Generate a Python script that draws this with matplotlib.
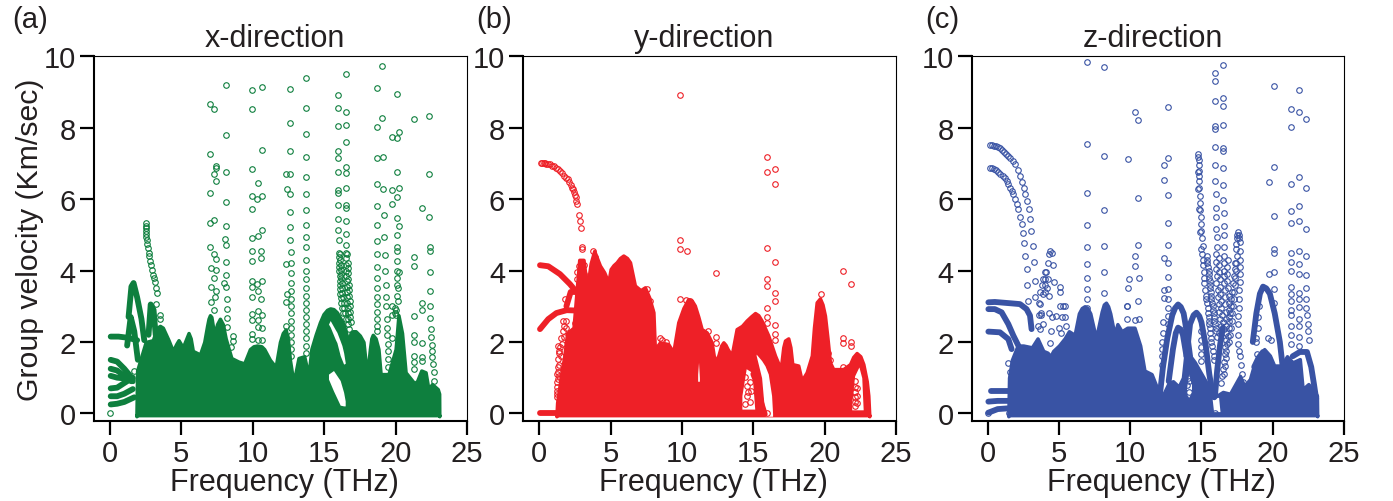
import numpy as np
import matplotlib
matplotlib.use('Agg')
import matplotlib.pyplot as plt

plt.rcParams['font.family'] = ['Liberation Sans', 'DejaVu Sans']
TEXT = '#231f20'
W, H = 1393, 502

green = '#0e7f3e'
red = '#ee2027'
blue = '#3953a4'

freq_ticks = [0, 5, 10, 15, 20, 25]
vel_ticks = [0, 2, 4, 6, 8, 10]

# ---- (a) x-direction: top edge of the solid mass
env_a_f = [1.85, 1.9, 2.2, 2.5, 3.0, 3.3, 3.5, 3.7, 4.1, 4.4, 4.65, 4.8, 5.1, 5.35, 5.5, 5.65, 5.8, 6.3, 6.6, 6.8, 6.9, 7.0, 7.1, 7.2, 7.3,
           7.5, 7.7, 7.9, 8.1, 8.5, 9.0, 9.4, 9.8, 10.05, 10.3, 10.6, 10.8, 11.2, 11.6, 11.9, 12.1, 12.3, 12.45, 12.6, 12.85, 13.2, 13.6, 13.9,
           14.1, 14.4, 14.7, 14.95, 15.2, 15.42, 15.65, 15.89, 16.36, 16.7, 16.85, 17.0, 17.2, 17.5, 17.75, 18.0, 18.2, 18.3, 18.4, 18.6, 18.8,
           18.95, 19.5, 20.0, 20.2, 20.45, 20.7, 21.0, 21.3, 21.5, 21.8, 22.1, 22.3, 22.55, 22.95, 23.05, 23.06]
env_a_v = [-0.08, 1.2, 1.6, 2.0, 2.05, 2.4, 2.45, 2.4, 2.05, 1.75, 1.95, 2.05, 1.85, 2.1, 2.25, 2.1, 1.75, 1.65, 2.0, 2.45, 2.65, 2.75, 2.7,
           2.45, 2.2, 2.5, 2.65, 2.5, 2.1, 1.55, 1.45, 1.4, 1.8, 1.88, 1.9, 1.88, 1.8, 1.5, 1.3, 2.0, 2.25, 2.35, 2.1, 1.5, 0.85, 1.55, 1.6, 1.05,
           1.8, 2.2, 2.55, 2.78, 2.9, 2.94, 2.92, 2.83, 2.5, 2.0, 2.25, 2.3, 2.3, 2.18, 2.0, 1.05, 1.8, 2.1, 2.2, 2.1, 1.8,
           1.1, 1.1, 1.8, 2.75, 2.25, 1.15, 1.0, 0.85, 0.9, 1.2, 1.15, 0.68, 0.82, 0.68, 0.55, -0.08]
hole_a1_f = [15.3, 15.42, 15.77, 15.89, 16.12, 16.24, 16.36, 16.47]
hole_a1_lo = [2.5, 2.42, 2.08, 1.98, 1.62, 1.5, 1.38, 1.4]
hole_a1_hi = [2.5, 2.6, 2.35, 2.27, 2.03, 1.9, 1.7, 1.43]
hole_a2_f = [15.3, 15.65, 16.12, 16.36, 16.47]
hole_a2_lo = [0.96, 0.63, 0.23, 0.21, 0.21]
hole_a2_hi = [1.1, 1.2, 0.92, 0.59, 0.35]
band_a1 = [[0.05, 0.6, 1.2, 1.9], [2.15, 2.15, 2.12, 2.05]]
band_a2 = [[0.05, 0.5, 1.0, 1.6], [1.5, 1.45, 1.25, 0.96]]
band_a3 = [[0.05, 0.5, 1.0, 1.5], [1.25, 1.2, 1.05, 0.9]]
band_a4 = [[0.05, 0.5, 1.0, 1.6], [1.05, 1.0, 0.98, 0.9]]
band_a5 = [[0.05, 0.5, 1.0, 1.6], [0.7, 0.72, 0.85, 1.0]]
band_a6 = [[0.05, 0.5, 1.0, 1.6], [0.48, 0.48, 0.55, 0.68]]
band_a7 = [[0.05, 0.5, 1.0, 1.7], [0.25, 0.27, 0.32, 0.45]]
band_a8 = [[1.3, 1.5, 1.65, 1.9, 2.2, 2.4], [2.7, 3.55, 3.65, 3.25, 2.65, 2.05]]
band_a9 = [[1.2, 1.45, 1.7, 1.95], [1.9, 2.7, 2.3, 1.5]]
band_a10 = [[2.7, 2.85, 3.05, 3.2], [2.2, 3.05, 2.9, 2.2]]
bands_a = [band_a1, band_a2, band_a3, band_a4, band_a5, band_a6, band_a7, band_a8, band_a9, band_a10]
pts_a = [(0.02, 0.0), (1.7, 1.2),
    (2.5, 5.33), (2.5, 5.25), (2.5, 5.18), (2.52, 5.1), (2.53, 5.02), (2.55, 4.95), (2.58, 4.85), (2.6, 4.75),
    (2.65, 4.62), (2.7, 4.5), (2.75, 4.4), (2.8, 4.28), (2.87, 4.15), (2.92, 4.02), (3.0, 3.88), (3.07, 3.78),
    (3.15, 3.67), (3.2, 3.5), (3.3, 3.38), (3.25, 3.05), (3.5, 2.75), (3.5, 2.65),
    (6.99, 8.66), (7.31, 8.52), (8.13, 9.2), (9.91, 9.06), (10.61, 9.13), (9.91, 8.52), (12.64, 9.09), (13.71, 9.39),
    (13.71, 8.54), (12.64, 8.14), (13.71, 7.82), (8.13, 7.81), (15.96, 8.92), (16.54, 9.5), (15.96, 8.54),
    (16.54, 8.44), (15.96, 8.05), (16.54, 8.08), (16.54, 7.59), (19.04, 9.73), (18.71, 9.12), (20.09, 8.95),
    (19.07, 8.28), (18.71, 8.02), (21.29, 8.25), (22.34, 8.34), (20.23, 7.88), (19.74, 7.73), (20.09, 7.7),
    (6.99, 7.25), (10.61, 7.38), (12.64, 7.36), (13.71, 7.19), (15.96, 7.34), (15.96, 7.16), (18.71, 7.14),
    (19.11, 7.18), (7.41, 6.94), (7.41, 6.86), (7.29, 6.69), (7.41, 6.52), (8.13, 6.75), (9.91, 6.84), (10.35, 6.46),
    (12.34, 6.69), (12.64, 6.69), (13.71, 6.63), (15.96, 6.75), (16.54, 6.89), (16.54, 6.73), (20.09, 6.77),
    (22.34, 6.69), (18.69, 6.41), (19.11, 6.28), (19.74, 6.25), (20.23, 6.31), (16.54, 6.32), (15.98, 6.26),
    (15.98, 6.17), (7.01, 6.18), (12.38, 6.29), (12.64, 6.14), (13.71, 6.13), (9.91, 6.08), (10.61, 6.1), (10.3, 5.99),
    (8.13, 5.93), (20.09, 6.05), (19.72, 5.86), (18.67, 5.81), (21.87, 5.75), (22.34, 5.51), (16.0, 5.83),
    (16.54, 5.84), (16.54, 5.75), (9.91, 5.72), (12.64, 5.65), (13.71, 5.7), (19.16, 5.56), (16.0, 5.45), (16.54, 5.4),
    (20.09, 5.47), (7.01, 5.33), (7.31, 5.41), (8.13, 5.26), (13.71, 5.28), (18.67, 5.28), (20.23, 5.26), (12.64, 5.22),
    (10.61, 5.13), (16.0, 5.14), (16.54, 5.03), (10.35, 4.96), (9.91, 4.9), (8.06, 4.88), (8.13, 4.72), (12.64, 4.85),
    (13.71, 4.93), (16.03, 4.86), (16.54, 4.72), (18.67, 4.84), (19.21, 4.95), (20.09, 5.0), (7.01, 4.65), (22.38, 4.65),
    (20.09, 4.65), (13.71, 4.65),
    (7.06, 4.06), (7.43, 4.02), (7.31, 4.46), (7.43, 4.32), (8.13, 4.25), (8.13, 3.87), (7.29, 3.79), (7.99, 3.64),
    (8.13, 3.53), (7.06, 3.53), (7.43, 3.44), (7.36, 3.25), (8.18, 3.2), (7.06, 3.11), (8.18, 2.92), (7.29, 2.89),
    (8.18, 2.66), (8.18, 2.41), (8.64, 2.18), (8.64, 2.04), (8.5, 1.85),
    (9.93, 4.56), (10.58, 4.56), (9.93, 4.26), (10.58, 4.34), (9.93, 3.72), (10.63, 3.72), (9.93, 3.53), (10.28, 3.62),
    (10.35, 3.44), (9.93, 3.25), (10.58, 3.2), (10.35, 2.88), (9.93, 2.78), (10.63, 2.75), (9.93, 2.62), (10.35, 2.62),
    (10.63, 2.4), (10.35, 2.41), (9.93, 2.22), (9.93, 2.08), (10.35, 2.06), (10.63, 2.06),
    (12.66, 4.51), (12.66, 4.2), (12.66, 3.92), (12.66, 3.65), (12.66, 3.42), (12.66, 3.2), (12.66, 3.0), (12.66, 2.8),
    (12.66, 2.6), (12.66, 2.4), (12.66, 2.2), (12.66, 2.0), (12.66, 1.8), (12.66, 1.6), (12.34, 4.17), (12.38, 3.34),
    (12.34, 3.11), (12.34, 2.45),
    (13.71, 4.3), (13.71, 4.0), (13.71, 3.75), (13.71, 3.5), (13.71, 3.3), (13.71, 3.1), (13.71, 2.9), (13.71, 2.7),
    (13.71, 2.5), (13.71, 2.3), (13.71, 2.1), (13.71, 1.9), (13.71, 1.7),
    (16.02, 4.5), (16.05, 4.38), (16.05, 4.22), (16.05, 4.1), (16.05, 3.98), (16.08, 3.85), (16.08, 3.72), (16.1, 3.6),
    (16.1, 3.48), (16.12, 3.35), (16.15, 3.22), (16.2, 3.08), (16.25, 2.95), (16.3, 2.82),
    (16.12, 4.45), (16.12, 4.3), (16.15, 4.15), (16.15, 4.02), (16.18, 3.9), (16.2, 3.78), (16.22, 3.65), (16.25, 3.5),
    (16.28, 3.38), (16.32, 3.25), (16.38, 3.1), (16.42, 2.95), (16.48, 2.8), (16.5, 2.65),
    (16.54, 4.5), (16.54, 4.35), (16.54, 4.15), (16.56, 4.0), (16.56, 3.85), (16.58, 3.7), (16.58, 3.55), (16.6, 3.4),
    (16.62, 3.25), (16.62, 3.1), (16.65, 2.95), (16.68, 2.8), (16.7, 2.65), (16.7, 2.5), (16.72, 2.35),
    (16.62, 4.45), (16.65, 4.22), (16.65, 4.08), (16.68, 3.92), (16.7, 3.75), (16.72, 3.6), (16.75, 3.45), (16.75, 3.3),
    (16.78, 3.15), (16.8, 3.0), (16.82, 2.85), (16.82, 2.7), (16.85, 2.55),
    (18.71, 4.46), (18.71, 4.1), (18.71, 3.78), (18.71, 3.5), (18.71, 3.27), (18.71, 3.05), (18.71, 2.85), (18.71, 2.65),
    (18.71, 2.45), (18.71, 2.3), (19.23, 4.44), (19.28, 3.98), (19.32, 3.6), (19.32, 3.25), (19.35, 3.0), (19.4, 2.65),
    (19.4, 2.4), (19.43, 2.2), (19.5, 1.95), (19.5, 1.76), (19.5, 1.52), (19.5, 1.3),
    (19.74, 3.0), (19.74, 2.75), (19.74, 2.1), (19.95, 2.8), (19.95, 2.95),
    (20.09, 4.56), (20.09, 4.27), (20.09, 4.0), (20.23, 3.95), (20.1, 3.8), (20.09, 3.6), (20.2, 3.5), (20.1, 3.3),
    (20.2, 3.15), (20.05, 2.9), (20.05, 2.75),
    (21.29, 4.39), (21.29, 4.12), (21.29, 2.74), (21.29, 2.19), (21.29, 2.0), (21.29, 1.62), (21.29, 1.43), (21.29, 1.24),
    (21.87, 3.09), (21.87, 2.9), (21.87, 1.96), (21.87, 1.57), (21.87, 1.48),
    (22.38, 4.56), (22.38, 3.97), (22.38, 3.44), (22.43, 3.0), (22.43, 2.66), (22.47, 2.36), (22.5, 2.13), (22.52, 1.92),
    (22.57, 1.76), (22.57, 1.57), (22.6, 1.38), (22.66, 1.15), (22.7, 0.92),
]

# ---- (b) y-direction
env_b_f = [1.2, 1.25, 1.5, 1.75, 1.95, 2.4, 2.65, 2.8, 3.1, 3.35, 3.6, 3.85, 4.25, 4.55, 4.84, 5.0, 5.2, 5.42, 5.65, 5.89, 6.15, 6.36, 6.7, 7.1, 7.4, 7.7, 8.0, 8.1,
           8.46, 9.04, 9.39, 9.74, 10.1, 10.44, 10.7, 10.9, 11.15, 11.38, 11.73, 12.08, 12.3, 12.55, 12.75, 12.9, 13.05, 13.2, 13.48, 13.83, 14.2, 14.53, 14.85, 15.12,
           15.35, 15.58, 16.05, 16.52, 16.92, 17.1, 17.22, 17.45, 17.6, 17.73, 18.15, 18.39, 18.74, 19.1, 19.25, 19.44, 19.67, 19.85, 20.02, 20.2, 20.37, 20.6,
           21.3, 21.78, 22.0, 22.24, 22.5, 22.71, 22.95, 23.06, 23.13]
env_b_v = [-0.08, 0.3, 1.0, 1.6, 2.25, 2.4, 3.6, 4.3, 4.3, 3.5, 4.2, 4.55, 4.14, 3.95, 3.67, 4.04, 4.15, 4.23, 4.35, 4.42, 4.35, 4.23, 3.58, 3.45, 3.53, 3.25, 2.83, 1.8,
           1.99, 1.94, 1.71, 2.55, 2.95, 3.2, 3.15, 3.02, 2.7, 2.36, 2.27, 1.99, 1.43, 1.62, 1.9, 1.99, 1.92, 1.8, 1.62, 2.36, 2.45, 2.6, 2.72, 2.81,
           2.75, 2.6, 2.18, 1.62, 1.24, 1.85, 2.04, 2.1, 1.85, 1.38, 1.34, 0.92, 1.15, 1.62, 2.4, 3.11, 3.22, 3.05, 2.74, 2.1, 1.43, 1.24,
           1.24, 1.38, 1.58, 1.69, 1.6, 1.38, 0.9, 0.5, -0.08]
hole_b1_f = [15.2, 15.58, 15.82, 16.05, 16.28, 16.35]
hole_b1_lo = [1.62, 1.0, -0.08, -0.08, -0.08, -0.08]
hole_b1_hi = [1.66, 1.48, 1.33, 1.1, 0.5, 0.0]
hole_b2_f = [14.2, 14.5, 14.9, 15.1]
hole_b2_lo = [0.12, 0.12, 0.12, 0.12]
hole_b2_hi = [0.5, 1.25, 1.15, 0.12]
hole_b3_f = [21.9, 22.1, 22.4, 22.6, 22.7]
hole_b3_lo = [0.1, 0.1, 0.1, 0.1, 0.1]
hole_b3_hi = [0.3, 1.05, 1.3, 1.0, 0.1]
hole_b4_f = [11.1, 11.16, 11.22]
hole_b4_lo = [0.9, 0.9, 0.9]
hole_b4_hi = [1.1, 1.43, 1.0]
band_b1 = [[0.05, 0.63, 1.45, 2.15, 2.73], [4.15, 4.12, 3.9, 3.62, 3.34]]
band_b2 = [[0.05, 0.63, 1.2, 1.92, 2.62], [2.36, 2.64, 2.81, 2.89, 2.88]]
band_b3 = [[0.05, 0.5, 1.3], [0.0, 0.0, 0.0]]
band_b4 = [[15.0, 15.3, 15.55, 15.8], [1.1, 0.8, 0.3, -0.02]]
band_b5 = [[1.9, 2.2, 2.6], [3.0, 3.4, 3.4]]
bands_b = [band_b1, band_b2, band_b3, band_b4, band_b5]
pts_b = [
    (0.1, 7.01), (0.2, 7.01), (0.3, 7.01), (0.4, 7.0), (0.5, 6.99), (0.6, 6.98), (0.75, 6.97), (0.9, 6.94), (1.0, 6.92),
    (1.15, 6.88), (1.3, 6.84), (1.45, 6.8), (1.6, 6.72), (1.75, 6.66), (1.9, 6.6), (2.03, 6.56), (2.1, 6.48), (2.2, 6.4),
    (2.3, 6.32), (2.38, 6.28), (2.42, 6.2), (2.48, 6.12), (2.57, 6.05), (2.6, 5.95), (2.66, 5.86), (2.78, 5.56),
    (2.85, 5.38), (2.9, 5.19), (2.99, 4.65),
    (9.88, 8.91), (15.93, 7.19), (16.54, 6.83), (15.93, 6.77), (16.54, 6.41), (9.88, 4.86), (9.88, 4.6), (10.33, 4.55),
    (15.93, 4.62), (16.54, 4.25), (12.36, 3.94), (15.93, 3.76), (15.93, 3.56), (16.54, 3.37), (16.54, 3.16), (15.93, 2.95),
    (9.88, 3.19), (15.93, 2.69), (15.93, 2.53), (16.54, 2.48), (16.54, 2.21), (16.54, 2.06), (21.29, 3.99), (21.87, 3.61),
    (21.29, 2.12), (21.29, 1.98), (21.87, 1.99), (21.87, 1.88), (21.29, 1.31), (15.93, 0.01), (12.36, 2.13), (12.36, 1.97),
    (19.72, 3.34), (11.85, 2.3), (8.46, 2.1), (7.76, 3.16), (7.52, 3.48), (7.83, 2.88), (2.66, 3.97), (2.66, 3.76),
    (2.8, 4.14), (3.13, 4.15), (3.13, 3.9), (3.13, 3.76), (2.97, 4.6), (3.79, 4.56), (3.9, 4.37), (1.8, 3.2), (1.68, 2.6),
    (2.5, 2.53), (2.73, 2.47), (10.56, 3.16), (10.3, 3.18),
    (1.33, 1.9), (1.4, 1.76), (1.33, 1.52), (1.33, 1.29), (1.21, 1.1), (1.21, 0.87), (1.21, 0.63), (1.21, 0.45), (1.45, 1.85),
    (1.5, 1.6), (1.4, 1.35), (1.3, 1.15), (1.3, 0.95), (1.25, 0.75), (1.25, 0.55), (1.35, 1.7), (1.4, 1.05), (1.55, 2.1),
    (1.65, 2.3), (1.75, 2.45), (1.6, 1.95), (1.7, 2.15), (1.85, 2.6), (1.9, 2.4),
    (14.53, 0.49), (14.42, 0.26), (14.77, 0.31), (14.84, 0.63), (14.53, 0.78), (14.42, 1.01), (14.77, 0.87), (14.6, 0.6),
    (22.1, 0.2), (22.1, 0.33), (22.1, 0.46), (22.1, 0.6), (22.1, 0.75), (22.1, 0.9), (22.25, 0.3), (22.25, 0.5), (22.25, 0.7),
    (19.5, 2.05), (19.5, 1.7), (20.05, 2.0), (20.2, 1.7), (20.35, 1.5), (19.4, 1.6), (7.3, 2.3), (8.6, 2.05), (8.9, 2.0),
]

# ---- (c) z-direction
env_c_f = [1.45, 1.5, 1.7, 2.1, 2.5, 3.1, 3.5, 3.9, 4.2, 4.4, 4.6, 5.0, 5.4, 5.7, 6.1, 6.4, 6.6, 6.8, 7.0, 7.2, 7.6, 8.0, 8.15, 8.3, 8.45, 8.6, 8.9,
           9.1, 9.4, 9.8, 10.3, 10.7, 11.0, 11.5, 12.0, 12.1, 12.4, 12.7, 13.0, 13.4, 13.7, 13.9, 14.4, 15.0, 15.5, 15.9,
           16.5, 17.0, 17.7, 18.0, 18.4, 18.6, 19.1, 19.4, 19.8, 20.1, 20.6, 21.0, 21.4, 21.9, 22.1, 22.5, 22.8, 23.1, 23.12]
env_c_v = [-0.08, 1.0, 1.5, 1.9, 1.9, 1.85, 2.1, 1.75, 1.7, 1.6, 1.75, 1.9, 2.1, 2.3, 2.2, 2.8, 2.95, 3.0, 2.95, 2.8, 2.1, 2.85, 3.05, 3.1, 3.0, 2.8, 2.2,
           2.5, 2.3, 2.4, 2.4, 1.9, 1.2, 1.1, 0.6, 0.35, 0.6, 0.85, 0.9, 0.75, 1.0, 1.75, 1.4, 1.05, 0.7, 0.45,
           0.6, 0.55, 1.05, 0.77, 0.96, 1.24, 1.6, 1.8, 1.62, 1.34, 1.34, 1.6, 1.43, 1.52, 0.68, 0.82, 0.68, 0.5, -0.08]
hole_c1_f = [15.75, 15.85, 16.2, 16.3]
hole_c1_lo = [0.4, 0.05, 0.05, 0.05]
hole_c1_hi = [0.4, 0.42, 0.45, 0.05]
hole_c2_f = [13.95, 14.1, 14.3]
hole_c2_lo = [0.55, 0.45, 0.6]
hole_c2_hi = [0.7, 1.1, 0.8]
band_c1 = [[0.05, 0.5, 1.1, 1.7, 2.27, 2.73, 2.97, 3.08], [3.11, 3.12, 3.1, 3.08, 3.06, 2.92, 2.74, 2.36]]
band_c2 = [[0.05, 0.5, 0.98, 1.45, 1.8, 2.15], [2.92, 2.92, 2.83, 2.5, 2.18, 1.9]]
band_c3 = [[0.05, 0.86, 1.45, 1.68], [2.29, 2.27, 2.08, 1.8]]
band_c4 = [[0.2, 0.7, 1.4], [0.62, 0.62, 0.62]]
band_c5 = [[0.05, 0.7, 1.4], [0.33, 0.35, 0.35]]
band_c6 = [[0.05, 0.7, 1.4], [0.02, 0.12, 0.14]]
band_c7 = [[12.05, 12.3, 12.6, 12.95, 13.15, 13.36, 13.55, 13.75, 14.0, 14.2], [0.4, 1.3, 2.1, 2.75, 2.95, 3.05, 2.98, 2.8, 2.2, 1.6]]
band_c8 = [[12.7, 13.0, 13.2, 13.36, 13.55, 13.7, 13.95], [0.9, 1.8, 2.25, 2.4, 2.35, 2.2, 1.6]]
band_c9 = [[13.95, 14.2, 14.45, 14.65, 14.85, 15.0, 15.3, 15.55, 15.8], [1.6, 2.5, 2.75, 2.82, 2.72, 2.55, 1.9, 1.1, 0.5]]
band_c10 = [[13.95, 14.5, 15.0, 15.5, 15.9], [1.7, 1.4, 1.05, 0.7, 0.45]]
band_c11 = [[18.6, 18.85, 19.1, 19.32, 19.55, 19.8, 20.14, 20.5, 20.7], [2.0, 2.8, 3.35, 3.55, 3.5, 3.35, 2.8, 2.0, 1.3]]
band_c12 = [[18.7, 19.0, 19.32, 19.7, 20.0], [1.3, 1.55, 1.72, 1.6, 1.3]]
band_c13 = [[21.4, 21.9, 22.4, 22.7, 22.9, 23.05], [1.6, 1.72, 1.72, 1.3, 0.8, 0.4]]
band_c14 = [[15.95, 16.1, 16.3, 16.5], [0.5, 1.2, 1.9, 2.4]]
bands_c = [band_c1, band_c2, band_c3, band_c4, band_c5, band_c6, band_c7, band_c8, band_c9, band_c10, band_c11, band_c12,
           band_c13, band_c14]
pts_c = [(0.02, 0.0), (1.45, 1.4), (1.6, 1.15), (1.5, 0.0), (15.98, 0.0),
    (0.16, 7.52), (0.3, 7.52), (0.45, 7.5), (0.6, 7.48), (0.75, 7.46), (0.86, 7.43), (1.0, 7.38), (1.15, 7.32), (1.3, 7.27),
    (1.45, 7.22), (1.6, 7.14), (1.75, 7.06), (1.92, 6.98), (2.1, 6.82), (2.27, 6.65), (2.42, 6.48), (2.55, 6.32), (2.65, 6.15),
    (2.73, 5.96), (2.87, 5.72), (2.97, 5.44), (3.06, 5.1), (3.15, 4.7),
    (0.16, 6.86), (0.3, 6.86), (0.45, 6.84), (0.6, 6.81), (0.75, 6.77), (0.9, 6.7), (1.05, 6.64), (1.2, 6.58), (1.33, 6.52),
    (1.45, 6.42), (1.6, 6.3), (1.7, 6.22), (1.8, 6.14), (1.95, 6.0), (2.05, 5.85), (2.15, 5.72), (2.27, 5.5), (2.38, 5.3),
    (2.48, 5.06), (2.57, 4.76),
    (6.96, 9.83), (8.13, 9.7), (10.35, 8.44), (10.58, 8.23), (12.64, 8.59), (15.98, 9.54), (16.54, 9.75), (15.98, 9.31),
    (15.98, 8.74), (16.54, 8.84), (16.54, 8.62), (15.98, 8.06), (15.98, 7.96), (16.54, 8.09), (20.09, 9.18), (21.85, 9.05),
    (21.29, 8.52), (21.85, 8.45), (22.31, 8.24), (21.29, 8.01), (6.96, 7.53), (8.13, 7.22), (9.88, 7.12), (12.64, 7.14),
    (12.36, 6.96), (12.36, 6.54), (12.64, 6.11), (10.58, 6.04), (6.96, 6.17), (8.13, 5.7), (6.96, 5.28), (12.64, 5.32),
    (6.96, 4.65), (8.13, 4.7), (10.58, 4.72), (12.64, 4.72), (15.98, 7.47), (16.54, 7.43), (16.54, 7.34), (15.98, 6.96),
    (16.54, 6.88), (15.98, 6.52), (16.54, 6.39), (16.03, 6.13), (16.54, 5.97), (16.03, 5.75), (16.03, 5.49), (16.59, 5.61),
    (16.03, 5.15), (16.59, 5.25), (16.07, 4.93), (16.59, 5.0), (16.59, 4.67), (16.07, 4.65), (20.09, 6.89), (19.72, 6.49),
    (21.29, 6.41), (21.85, 6.63), (22.31, 6.3), (20.09, 5.52), (21.29, 5.68), (21.85, 5.8), (21.29, 5.33), (21.85, 5.4),
    (22.31, 5.15), (20.09, 4.6),
    (14.77, 7.26), (14.77, 7.18), (14.8, 7.1), (14.8, 6.95), (14.82, 6.8), (14.82, 6.65), (14.82, 6.5), (14.85, 6.3),
    (14.87, 6.1), (14.9, 5.9), (14.93, 5.7), (14.95, 5.5), (14.97, 5.3), (15.0, 5.1), (15.05, 4.9), (15.1, 4.7),
    (14.77, 6.75), (14.77, 6.28), (14.84, 5.72), (14.93, 5.07), (15.0, 4.6),
    (15.07, 4.46), (15.1, 4.3), (15.1, 4.15), (15.15, 3.95), (15.2, 3.8), (15.2, 3.65), (15.25, 3.45), (15.35, 3.2),
    (15.45, 2.95), (15.5, 2.7), (15.55, 2.5), (15.62, 2.25), (15.7, 2.0), (15.8, 1.75), (15.9, 1.5),
    (15.4, 4.4), (15.42, 4.2), (15.5, 4.0), (15.55, 3.8), (15.6, 3.6), (15.65, 3.4), (15.7, 3.2), (15.78, 3.0), (15.85, 2.8),
    (15.9, 2.6), (16.0, 2.4),
    (15.3, 3.3), (15.4, 3.08), (15.48, 2.82), (15.52, 2.6), (15.58, 2.38), (15.66, 2.12), (15.75, 1.88), (15.85, 1.62),
    (15.42, 4.3), (15.46, 4.1), (15.52, 3.9), (15.58, 3.7), (15.62, 3.5), (15.68, 3.3), (15.74, 3.1), (15.82, 2.9), (15.88, 2.7),
    (15.95, 2.5), (16.05, 2.3), (16.1, 2.15), (16.2, 2.25),
    (16.0, 4.45), (16.05, 4.25), (16.03, 4.05), (16.1, 3.85), (16.05, 3.65), (16.15, 3.45), (16.15, 3.25), (16.2, 3.05),
    (16.25, 2.85), (16.3, 2.65), (16.4, 2.45), (16.59, 4.4), (16.59, 4.2), (16.6, 4.0), (16.55, 3.85), (16.6, 3.65), (16.62, 3.45),
    (16.62, 3.25), (16.65, 3.05), (16.7, 2.85), (16.72, 2.65), (16.75, 2.45), (16.75, 2.25), (16.72, 2.05), (16.68, 1.85),
    (16.65, 1.65), (16.6, 1.45), (16.5, 1.25), (16.45, 1.05), (16.4, 0.85),
    (16.22, 4.35), (16.25, 4.15), (16.25, 3.95), (16.28, 3.75), (16.3, 3.55), (16.32, 3.35), (16.35, 3.15), (16.4, 2.95),
    (16.45, 2.75), (16.5, 2.55), (16.55, 2.35), (16.85, 4.3), (16.82, 4.1), (16.8, 3.9), (16.82, 3.7), (16.85, 3.5),
    (16.9, 3.3), (16.9, 3.1), (16.92, 2.9), (16.95, 2.7),
    (17.57, 5.07), (17.62, 5.0), (17.52, 5.0), (17.65, 4.9), (17.48, 4.9), (17.67, 4.8), (17.45, 4.75), (17.69, 4.56), (17.4, 4.6),
    (17.35, 4.2), (17.33, 4.04), (17.28, 3.85), (17.22, 3.65), (17.15, 3.4), (17.1, 3.2), (17.05, 3.0), (17.0, 2.8),
    (16.95, 2.6), (16.9, 2.4), (16.87, 2.18), (16.8, 1.95), (16.75, 1.75), (16.7, 1.55), (16.64, 1.34), (16.55, 1.1),
    (17.69, 4.3), (17.69, 4.1), (17.7, 3.9), (17.69, 3.67), (17.65, 3.45), (17.62, 3.2), (17.6, 2.95), (17.57, 2.74),
    (17.55, 2.5), (17.55, 2.2), (17.57, 1.94), (17.62, 1.75), (17.69, 1.6), (17.75, 1.35), (17.85, 1.1), (17.92, 0.87),
    (17.5, 4.4), (17.45, 4.2), (17.42, 4.0), (17.38, 3.8), (17.35, 3.6), (17.3, 3.4), (17.25, 3.2), (17.2, 3.0), (17.15, 2.8),
    (17.12, 2.6), (17.08, 2.4), (17.02, 2.2), (16.95, 2.0),
    (2.65, 4.4), (2.73, 4.05), (2.78, 3.6), (2.85, 3.15), (3.27, 4.25), (3.33, 3.72), (3.3, 3.25), (3.6, 3.1), (3.7, 3.05),
    (3.6, 2.75), (3.75, 2.75), (3.85, 2.5), (3.5, 2.45), (3.7, 2.35), (3.75, 2.8), (3.85, 3.35), (3.7, 3.4), (4.0, 3.4),
    (3.8, 3.6), (3.9, 3.75), (4.0, 3.95), (4.1, 3.95), (4.05, 3.75), (4.2, 3.75), (4.0, 3.6), (4.15, 3.5), (4.3, 3.3),
    (4.3, 4.45), (4.4, 4.55), (4.5, 4.5), (4.2, 4.2), (4.55, 4.15), (4.65, 3.68), (4.3, 2.8), (4.5, 2.7), (4.45, 2.32),
    (4.4, 1.98), (4.8, 2.72), (5.05, 3.55), (5.1, 3.4), (5.1, 3.0), (5.2, 2.7), (5.3, 3.0), (5.4, 2.7), (5.4, 3.0), (5.0, 2.4),
    (5.15, 2.25), (5.5, 2.45),
    (6.96, 4.18), (6.96, 3.78), (6.96, 3.48), (6.96, 3.2), (6.96, 2.95), (8.13, 3.96), (8.13, 3.38), (9.75, 3.0), (9.75, 3.0),
    (9.75, 2.65), (9.88, 3.52), (9.9, 3.76), (10.35, 4.4), (10.35, 4.13), (10.6, 3.8), (10.58, 3.15), (10.35, 2.62), (10.6, 2.65),
    (12.36, 4.35), (12.64, 4.2), (12.64, 3.82), (12.64, 3.48), (12.36, 3.45), (12.36, 3.23), (12.64, 3.2), (12.64, 2.95),
    (12.64, 2.72), (12.3, 2.55), (12.64, 2.5), (12.3, 2.25), (12.25, 2.0), (12.25, 1.8), (12.25, 1.6), (12.25, 1.35),
    (14.05, 1.0), (14.0, 0.8), (14.1, 0.6), (14.15, 0.9), (15.0, 2.3), (15.0, 2.05), (15.0, 1.85), (15.0, 1.65), (15.0, 1.47),
    (20.09, 4.48), (20.1, 3.96), (20.1, 3.48), (19.75, 3.9), (20.1, 3.1), (19.7, 2.1), (19.9, 2.05), (18.85, 2.1), (18.85, 2.0),
    (18.9, 1.65), (18.95, 2.4), (19.0, 2.7), (19.05, 3.0),
    (21.3, 4.5), (21.3, 4.25), (21.3, 4.0), (21.3, 3.55), (21.3, 3.35), (21.3, 3.15), (21.3, 2.9), (21.3, 2.75), (21.3, 2.45),
    (21.3, 2.2), (21.3, 1.95), (21.85, 4.55), (21.85, 4.17), (21.85, 3.9), (21.85, 3.38), (21.85, 3.2), (21.85, 2.98), (21.85, 2.65),
    (21.85, 2.45), (21.85, 2.15), (21.85, 1.9), (22.31, 4.4), (22.31, 3.88), (22.31, 3.5), (22.35, 3.2), (22.35, 2.95), (22.4, 2.75),
    (22.45, 2.5), (22.5, 2.3), (22.55, 2.05),
]


def px_x(x):
    return x / W


def px_y(y):
    return 1 - y / H


def draw_panel(left, right, color, env_f, env_v, holes, bands, pts):
    top, bottom = 57.3, 421.7
    ax = fig.add_axes([px_x(left), px_y(bottom), px_x(right - left), (bottom - top) / H])
    # round joins take the corners off the typed outline
    ax.fill_between(env_f, -0.05, env_v, color=color, lw=2.5, joinstyle='round', zorder=2)
    for f, lo, hi in holes:
        ax.fill_between(f, lo, hi, color='white', lw=0, zorder=3)
    for f, v in bands:
        ax.plot(f, v, color=color, lw=4.2, solid_capstyle='round', zorder=4)
    xs, ys = np.array(pts).T
    ax.plot(xs, ys, ls='none', marker='o', ms=4.0, mfc='none', mec=color, mew=0.8, zorder=5)

    ax.set_xlim(-1.12, 25)
    ax.set_ylim(-0.205, 10)
    ax.set_xticks(freq_ticks)
    ax.set_yticks(vel_ticks)
    ax.tick_params(length=10, width=1.6, labelsize=21, labelcolor=TEXT, pad=3)
    ax.spines['left'].set_linewidth(1.5)
    ax.spines['bottom'].set_linewidth(1.5)
    ax.spines['top'].set_linewidth(0.8)
    ax.spines['right'].set_linewidth(0.8)
    ax.set_xlabel('Frequency (THz)', fontsize=22, color=TEXT, labelpad=0)
    ax.xaxis.label.set_x(0.51)
    return ax


fig = plt.figure(figsize=(W / 100, H / 100), dpi=100)

ax_a = draw_panel(94, 467, green, env_a_f, env_a_v,
                  [(hole_a1_f, hole_a1_lo, hole_a1_hi), (hole_a2_f, hole_a2_lo, hole_a2_hi)], bands_a, pts_a)
ax_b = draw_panel(523.3, 896, red, env_b_f, env_b_v,
                  [(hole_b1_f, hole_b1_lo, hole_b1_hi), (hole_b2_f, hole_b2_lo, hole_b2_hi),
                   (hole_b3_f, hole_b3_lo, hole_b3_hi), (hole_b4_f, hole_b4_lo, hole_b4_hi)], bands_b, pts_b)
ax_c = draw_panel(971.7, 1344, blue, env_c_f, env_c_v,
                  [(hole_c1_f, hole_c1_lo, hole_c1_hi), (hole_c2_f, hole_c2_lo, hole_c2_hi)], bands_c, pts_c)

ax_a.set_ylabel('Group velocity (Km/sec)', fontsize=21.8, color=TEXT, labelpad=0)

fig.text(px_x(275), px_y(47), 'x-direction', fontsize=22, color=TEXT, ha='center', va='baseline')
fig.text(px_x(704.5), px_y(47), 'y-direction', fontsize=22, color=TEXT, ha='center', va='baseline')
fig.text(px_x(1152.7), px_y(47), 'z-direction', fontsize=22, color=TEXT, ha='center', va='baseline')
fig.text(px_x(12), px_y(28), '(a)', fontsize=21, color=TEXT, va='baseline')
fig.text(px_x(476), px_y(28), '(b)', fontsize=21, color=TEXT, va='baseline')
fig.text(px_x(925), px_y(28), '(c)', fontsize=21, color=TEXT, va='baseline')

fig.savefig('out.png', dpi=100)
